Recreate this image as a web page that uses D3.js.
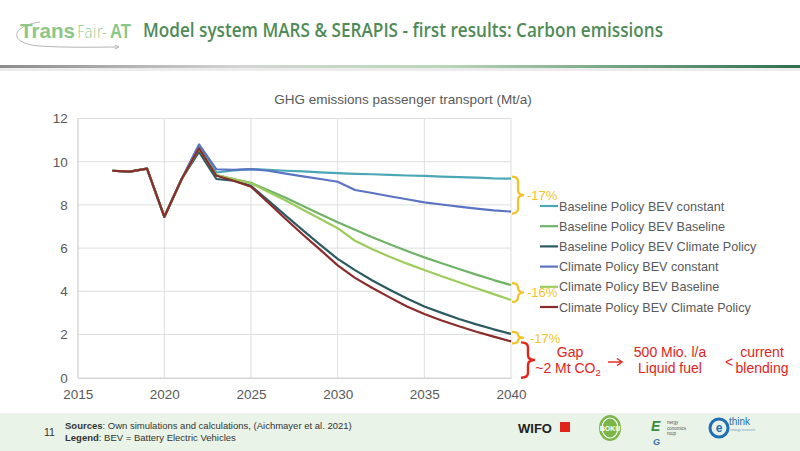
<!DOCTYPE html>
<html lang="en">
<head>
<meta charset="UTF-8">
<title>Carbon emissions</title>
<style>
  body { margin: 0; padding: 0; background: #fff; }
  svg { display: block; font-family: "Liberation Sans", Arial, sans-serif; }
</style>
</head>
<body>
<svg id="slide" width="800" height="451"></svg>
<script src="https://cdnjs.cloudflare.com/ajax/libs/d3/7.9.0/d3.min.js"></script>
<script>
// ---- data (Mt CO2eq per year) ----
const years = d3.range(2017, 2041);
const seriesNames = [
  'Baseline Policy BEV constant',
  'Baseline Policy BEV Baseline',
  'Baseline Policy BEV Climate Policy',
  'Climate Policy BEV constant',
  'Climate Policy BEV Baseline',
  'Climate Policy BEV Climate Policy'
];
const seriesColors = ['#4ba6b6', '#6fb466', '#2b5a62', '#5b74c2', '#9dcc5c', '#8b2b2b'];
const history = [9.58, 9.54, 9.68, 7.45, 9.2];
const baseConst = [...history, 10.75, 9.5, 9.6, 9.66, 9.62, 9.58, 9.55, 9.51, 9.47, 9.44, 9.42, 9.39, 9.36, 9.34, 9.31, 9.29, 9.26, 9.23, 9.22];
const baseBase = [...history, 10.6, 9.38, 9.2, 9.02, 8.68, 8.33, 7.95, 7.57, 7.2, 6.85, 6.5, 6.18, 5.87, 5.57, 5.3, 5.03, 4.77, 4.52, 4.29];
const baseClim = [...history, 10.45, 9.2, 9.12, 8.88, 8.2, 7.5, 6.82, 6.15, 5.5, 4.98, 4.5, 4.07, 3.67, 3.3, 3.0, 2.72, 2.47, 2.24, 2.03];
const climConst = [...history, 10.8, 9.65, 9.62, 9.66, 9.58, 9.45, 9.32, 9.2, 9.07, 8.69, 8.55, 8.4, 8.26, 8.12, 8.02, 7.92, 7.83, 7.75, 7.69];
const climBase = [...history, 10.6, 9.38, 9.2, 9.0, 8.6, 8.2, 7.78, 7.35, 6.92, 6.34, 5.95, 5.6, 5.28, 4.99, 4.7, 4.42, 4.14, 3.87, 3.6];
const climClim = [...history, 10.62, 9.35, 9.12, 8.84, 8.1, 7.35, 6.62, 5.92, 5.2, 4.62, 4.15, 3.72, 3.3, 2.95, 2.65, 2.38, 2.13, 1.9, 1.68];
const seriesValues = [baseConst, baseBase, baseClim, climConst, climBase, climClim];
const xTicks = [2015, 2020, 2025, 2030, 2035, 2040];
const yTicks = [0, 2, 4, 6, 8, 10, 12];
// brace annotations: [upper value, lower value, label]
const braces = [[9.22, 7.69, '-17%'], [4.29, 3.6, '-16%'], [2.03, 1.68, '-17%']];

const svg = d3.select('#slide');

// ---- header ----
const defs = svg.append('defs');
const grad = defs.append('linearGradient').attr('id', 'hdr');
grad.append('stop').attr('offset', '0%').attr('stop-color', '#8c8c8c');
grad.append('stop').attr('offset', '30%').attr('stop-color', '#d4d4d4');
grad.append('stop').attr('offset', '55%').attr('stop-color', '#b9d8b9');
grad.append('stop').attr('offset', '100%').attr('stop-color', '#2f6e4e');
svg.append('rect').attr('x', 0).attr('y', 65).attr('width', 800).attr('height', 3).attr('fill', 'url(#hdr)');
svg.append('rect').attr('x', 0).attr('y', 68).attr('width', 800).attr('height', 3).attr('fill', '#ececec');

// logo
svg.append('path')
  .attr('d', 'M40,22 C10,26 8,44 40,46 C70,48 100,47 118,47')
  .attr('fill', 'none').attr('stroke', '#b5b5b5').attr('stroke-width', 1);
svg.append('path').attr('d', 'M115,45 L119,47 L115,49').attr('fill', 'none').attr('stroke', '#b5b5b5');
svg.append('text').attr('x', 20).attr('y', 38).attr('font-size', 21).attr('font-weight', 'bold')
  .attr('font-family', '"Liberation Sans Narrow", sans-serif').attr('fill', '#8cc788')
  .attr('textLength', 55).attr('lengthAdjust', 'spacingAndGlyphs').text('Trans');
svg.append('text').attr('x', 77).attr('y', 38).attr('font-size', 17).attr('font-weight', 300)
  .attr('font-family', '"DejaVu Sans", sans-serif').attr('fill', '#8cc788')
  .attr('textLength', 30).attr('lengthAdjust', 'spacingAndGlyphs').text('Fair-');
svg.append('text').attr('x', 110).attr('y', 38).attr('font-size', 21).attr('font-weight', 'bold')
  .attr('font-family', '"Liberation Sans Narrow", sans-serif').attr('fill', '#8cc788')
  .attr('textLength', 21).attr('lengthAdjust', 'spacingAndGlyphs').text('AT');

svg.append('text')
  .attr('x', 143).attr('y', 37)
  .attr('font-family', '"Open Sans", sans-serif').attr('font-weight', 600)
  .attr('font-size', 19).attr('fill', '#4f8b57')
  .attr('textLength', 520).attr('lengthAdjust', 'spacingAndGlyphs')
  .text('Model system MARS & SERAPIS - first results: Carbon emissions');

// ---- chart ----
const x = d3.scaleLinear().domain([2015, 2040]).range([77.7, 511]);
const y = d3.scaleLinear().domain([0, 12]).range([377.7, 118.5]);

svg.append('text')
  .attr('x', 403).attr('y', 104).attr('text-anchor', 'middle')
  .attr('font-size', 13.5).attr('fill', '#595959')
  .text('GHG emissions passenger transport (Mt/a)');

const grid = svg.append('g');
grid.selectAll('.hg').data(yTicks.filter(d => d > 0)).enter().append('line')
  .attr('x1', x(2015)).attr('x2', x(2040))
  .attr('y1', d => y(d)).attr('y2', d => y(d))
  .attr('stroke', '#dedede').attr('stroke-width', 1);
grid.selectAll('.vg').data(xTicks).enter().append('line')
  .attr('x1', d => x(d)).attr('x2', d => x(d))
  .attr('y1', y(12)).attr('y2', y(0))
  .attr('stroke', '#dedede').attr('stroke-width', 1);

const xAxis = svg.append('g').attr('transform', `translate(0,${y(0)})`)
  .call(d3.axisBottom(x).tickValues(xTicks).tickFormat(d3.format('d')).tickSize(0).tickPadding(12));
xAxis.select('.domain').attr('stroke', '#bfbfbf');
xAxis.selectAll('text').attr('font-size', 13.5).attr('fill', '#595959')
  .attr('font-family', '"Liberation Sans", sans-serif');

const yAxis = svg.append('g').attr('transform', `translate(${x(2015)},0)`)
  .call(d3.axisLeft(y).tickValues(yTicks).tickSize(0).tickPadding(10));
yAxis.select('.domain').attr('stroke', '#d9d9d9');
yAxis.selectAll('text').attr('font-size', 13.5).attr('fill', '#595959')
  .attr('font-family', '"Liberation Sans", sans-serif');

const line = d3.line().x((d, i) => x(years[i])).y(d => y(d));
svg.append('g').selectAll('path').data(seriesValues).enter().append('path')
  .attr('d', line)
  .attr('fill', 'none')
  .attr('stroke', (d, i) => seriesColors[i])
  .attr('stroke-width', 2.2)
  .attr('stroke-linejoin', 'round');

// ---- legend ----
const legend = svg.append('g').attr('transform', 'translate(540,206)');
const item = legend.selectAll('g').data(seriesNames).enter().append('g')
  .attr('transform', (d, i) => `translate(0,${i * 20.2})`);
item.append('line').attr('x1', 0).attr('x2', 18).attr('y1', 0).attr('y2', 0)
  .attr('stroke', (d, i) => seriesColors[i]).attr('stroke-width', 2.2);
item.append('text').attr('x', 19).attr('y', 4.5)
  .attr('font-size', 12.6).attr('fill', '#595959').text(d => d);

// ---- brace annotations ----
function brace(x0, y1, y2, w) {
  const ym = (y1 + y2) / 2, r = Math.min(5, (y2 - y1) / 4), xm = x0 + w / 2;
  return `M${x0},${y1} Q${xm},${y1} ${xm},${y1 + r} L${xm},${ym - r} Q${xm},${ym} ${x0 + w},${ym}` +
    ` Q${xm},${ym} ${xm},${ym + r} L${xm},${y2 - r} Q${xm},${y2} ${x0},${y2}`;
}
const gold = '#f4c226';
braces.forEach(([hi, lo, label], i) => {
  const y1 = y(hi) - 2, y2 = y(lo) + 2;
  svg.append('path').attr('d', brace(x(2040) + 1, y1, y2, 12))
    .attr('fill', 'none').attr('stroke', gold).attr('stroke-width', 2.2);
  svg.append('text').attr('x', x(2040) + (i === 2 ? 19 : 16)).attr('y', (y1 + y2) / 2 + 5)
    .attr('font-size', 13).attr('fill', gold).text(label);
});

// red gap brace: from the lowest 2040 value to zero
const red = '#e2231a';
svg.append('path').attr('d', brace(x(2040) + 10, y(climClim[climClim.length - 1]) + 1, y(0), 14))
  .attr('fill', 'none').attr('stroke', red).attr('stroke-width', 2.4);

const redText = svg.append('g').attr('fill', red).attr('font-size', 14).attr('text-anchor', 'middle');
redText.append('text').attr('x', 570).attr('y', 357).text('Gap');
const co2 = redText.append('text').attr('x', 568).attr('y', 373);
co2.append('tspan').text('~2 Mt CO');
co2.append('tspan').text('2').attr('font-size', 9.5).attr('dy', 3);
// arrow
svg.append('line').attr('x1', 608).attr('x2', 621).attr('y1', 362).attr('y2', 362)
  .attr('stroke', red).attr('stroke-width', 1.4);
svg.append('path').attr('d', 'M617,358.5 L622,362 L617,365.5').attr('fill', 'none')
  .attr('stroke', red).attr('stroke-width', 1.4);
redText.append('text').attr('x', 670).attr('y', 357).text('500 Mio. l/a');
redText.append('text').attr('x', 670).attr('y', 373).text('Liquid fuel');
redText.append('text').attr('x', 729).attr('y', 367).text('<');
redText.append('text').attr('x', 762).attr('y', 357).text('current');
redText.append('text').attr('x', 762).attr('y', 373).text('blending');

// ---- footer ----
svg.append('rect').attr('x', 0).attr('y', 413).attr('width', 800).attr('height', 38).attr('fill', '#e9f3e7');
svg.append('text').attr('x', 44).attr('y', 436).attr('font-size', 10.5).attr('fill', '#333').text('11');
const src = svg.append('text').attr('x', 65).attr('y', 429).attr('font-size', 9.5).attr('fill', '#333')
  .attr('font-family', '"Liberation Sans Narrow", sans-serif');
src.append('tspan').text('Sources').attr('font-weight', 'bold');
src.append('tspan').text(': Own simulations and calculations, (Aichmayer et al. 2021)');
const leg = svg.append('text').attr('x', 65).attr('y', 441).attr('font-size', 9.5).attr('fill', '#333')
  .attr('font-family', '"Liberation Sans Narrow", sans-serif');
leg.append('tspan').text('Legend').attr('font-weight', 'bold');
leg.append('tspan').text(': BEV = Battery Electric Vehicles');

// WIFO
svg.append('text').attr('x', 518).attr('y', 433).attr('font-size', 13).attr('font-weight', 'bold')
  .attr('fill', '#222').text('WIFO');
svg.append('rect').attr('x', 560).attr('y', 422).attr('width', 10).attr('height', 10).attr('fill', '#e2231a');
// BOKU
svg.append('ellipse').attr('cx', 610).attr('cy', 428).attr('rx', 11).attr('ry', 13).attr('fill', '#7ab648');
svg.append('ellipse').attr('cx', 610).attr('cy', 428).attr('rx', 8).attr('ry', 10)
  .attr('fill', 'none').attr('stroke', '#fff').attr('stroke-width', 1.2);
svg.append('text').attr('x', 610).attr('y', 431).attr('text-anchor', 'middle').attr('font-size', 7)
  .attr('font-weight', 'bold').attr('fill', '#fff').text('BOKU');
// Energy Economics Group
svg.append('text').attr('x', 651).attr('y', 431).attr('font-size', 14).attr('font-style', 'italic')
  .attr('font-weight', 'bold').attr('fill', '#3a8f3a').text('E');
svg.append('text').attr('x', 653).attr('y', 445).attr('font-size', 9).attr('font-style', 'italic')
  .attr('font-weight', 'bold').attr('fill', '#2c6fb0').text('G');
['nergy', 'conomics', 'roup'].forEach((t, i) => {
  svg.append('text').attr('x', 667).attr('y', 424 + i * 5.5).attr('font-size', 4.5).attr('fill', '#555').text(t);
});
// ethink
svg.append('circle').attr('cx', 719).attr('cy', 428).attr('r', 9)
  .attr('fill', 'none').attr('stroke', '#1f6fb5').attr('stroke-width', 3);
svg.append('text').attr('x', 719).attr('y', 432).attr('text-anchor', 'middle').attr('font-size', 12)
  .attr('font-weight', 'bold').attr('fill', '#1f6fb5').text('e');
svg.append('text').attr('x', 729).attr('y', 425).attr('font-size', 10).attr('fill', '#1f6fb5').text('think');
svg.append('text').attr('x', 730).attr('y', 431).attr('font-size', 3.5).attr('fill', '#7a9cc6').text('energy research');
</script>
</body>
</html>
